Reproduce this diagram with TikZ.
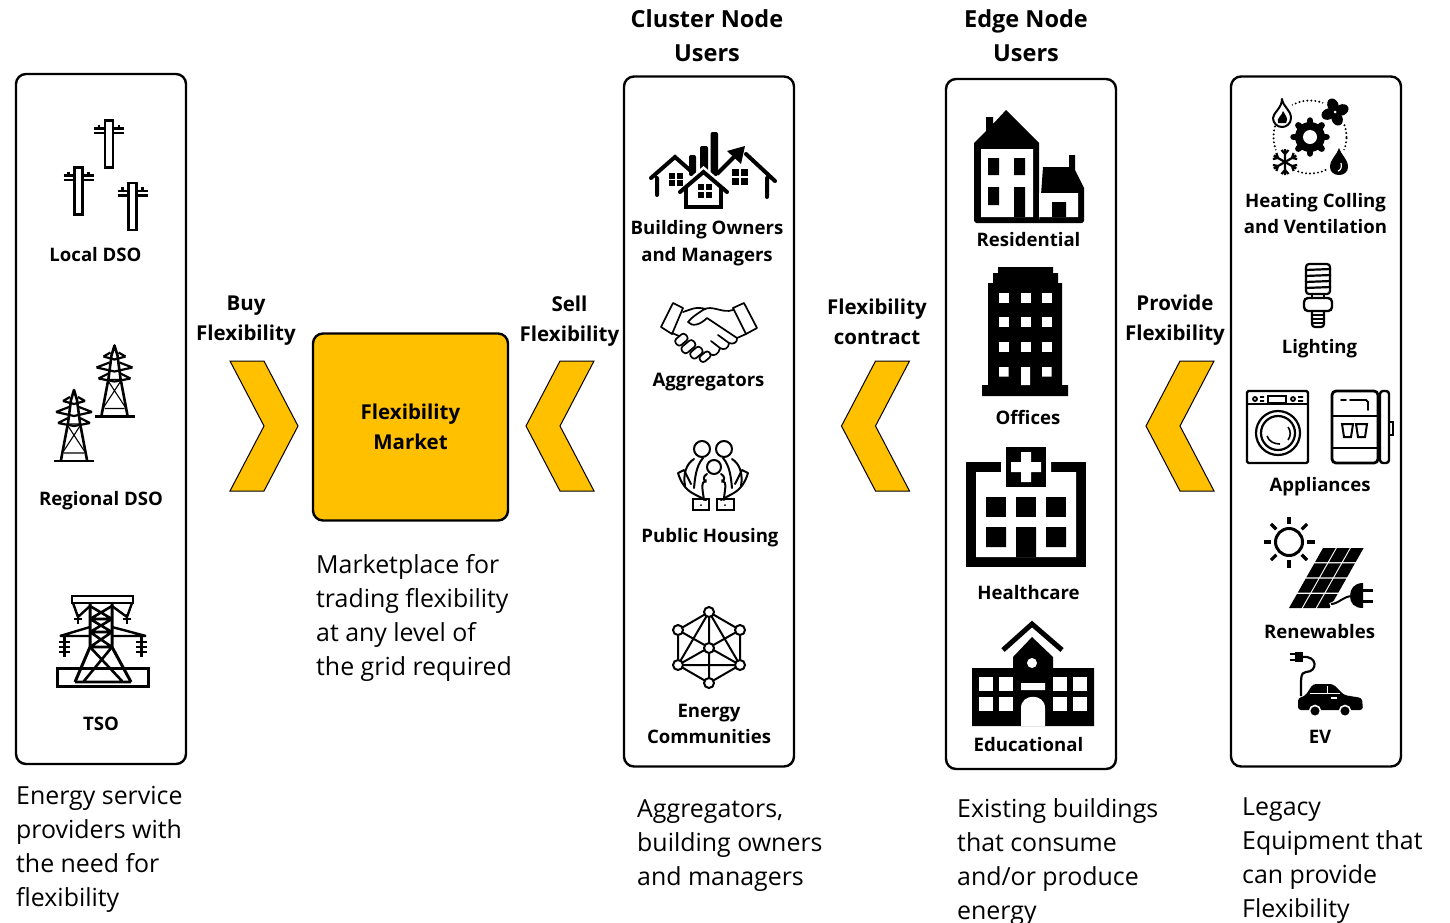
\documentclass[tikz,border=0pt]{standalone}
\usepackage{fontspec}
\setmainfont{Open Sans}
\usetikzlibrary{positioning}
\definecolor{marketgold}{HTML}{FFC000}
\tikzset{
    panel/.style={draw,line width=2.4pt,rounded corners=10pt,minimum width=170pt,minimum height=690pt,inner sep=0pt},
    lbl/.style={align=center,inner sep=0pt,font=\bfseries\fontsize{18.6}{26.5}\selectfont},
    head/.style={align=center,inner sep=0pt,font=\bfseries\fontsize{23.5}{34}\selectfont},
    side/.style={align=center,inner sep=0pt,font=\bfseries\fontsize{20.5}{30}\selectfont},
    note/.style={align=left,anchor=west,inner sep=0pt,font=\fontsize{24.9}{34}\selectfont},
    thin line/.style={line width=1.7pt,line cap=round,line join=round},
    chevron/.pic={\draw[fill=marketgold,line width=1pt,line join=miter] (-34,-65) -- (0,-65) -- (34,0) -- (0,65) -- (-34,65) -- (0,0) -- cycle;},
    pole/.pic={
        \draw[line width=2.5pt] (-4,0) rectangle (4,47);
        \draw[line width=2.2pt] (-15,8) -- (-4,8) (4,8) -- (15,8) (-15,12.5) -- (-4,12.5) (4,12.5) -- (15,12.5) (-10,4) -- (-10,8) (10,4) -- (10,8);
    },
    pylon/.pic={
        \draw[line width=2.6pt,line join=round] (-13,70) -- (-6,33) -- (-3,10) -- (0,0) -- (3,10) -- (6,33) -- (13,70);
        \draw[line width=2.6pt] (-20,71) -- (20,71);
        \draw[line width=1.1pt] (-6,36) -- (11,62) (6,36) -- (-11,62) (-10,63) -- (10,63) (-7,34) -- (7,34);
        \draw[line width=2.2pt,line join=round] (-11,11) -- (-4,7) (11,11) -- (4,7) (-11,11) -- (0,14) -- (11,11) (-18,22) -- (-5,17) (18,22) -- (5,17) (-18,22) -- (0,26) -- (18,22) (-16,33) -- (-6,28) (16,33) -- (6,28) (-16,33) -- (0,36) -- (16,33);
    }
}
\begin{document}
\begin{tikzpicture}[x=1pt,y=-1pt]
    \useasboundingbox (0,0) rectangle (1450,922);

    \node[panel] (dso) at (101,419) {};
    \node[panel] (cluster) at (709,421.5) {};
    \node[panel] (edge) at (1031,424) {};
    \node[panel] (legacy) at (1316,421.5) {};
    \node[draw,line width=2.4pt,rounded corners=10pt,fill=marketgold,minimum width=195pt,minimum height=187pt,align=center,font=\bfseries\fontsize{20.5}{30}\selectfont] (market) at (410.5,427) {Flexibility\\Market};

    \pic (buy) at (264,426) {chevron};
    \pic[xscale=-1] (sell) at (560,426) {chevron};
    \pic[xscale=-1] (contract) at (875.5,426) {chevron};
    \pic[xscale=-1] (provide) at (1180,426) {chevron};

    \node[head] (clusterhead) at (707,36) {Cluster Node\\Users};
    \node[head] (edgehead) at (1026,36) {Edge Node\\Users};
    \node[side] (buylbl) at (246,321) {Buy\\Flexibility};
    \node[side] (selllbl) at (569.5,321) {Sell\\Flexibility};
    \node[side] (contractlbl) at (877,321.5) {Flexibility\\contract};
    \node[side] (providelbl) at (1175,320) {Provide\\Flexibility};

    \node[lbl] (localdso) at (95.5,254.5) {Local DSO};
    \node[lbl] (regional) at (101,501) {Regional DSO};
    \node[lbl] (tso) at (101,724) {TSO};
    \node[lbl] (owners) at (707,243) {Building Owners\\and Managers};
    \node[lbl] (aggregators) at (708.5,382) {Aggregators};
    \node[lbl] (housing) at (710,537.5) {Public Housing};
    \node[lbl] (communities) at (709,724) {Energy\\Communities};
    \node[lbl] (residential) at (1028.5,239.5) {Residential};
    \node[lbl] (offices) at (1028,417) {Offices};
    \node[lbl] (healthcare) at (1028.5,592.5) {Healthcare};
    \node[lbl] (educational) at (1028.5,744.5) {Educational};
    \node[lbl] (hvac) at (1315.5,213.5) {Heating Colling\\and Ventilation};
    \node[lbl] (lighting) at (1319.5,349) {Lighting};
    \node[lbl] (appliances) at (1320,486.5) {Appliances};
    \node[lbl] (renewables) at (1319.5,631.5) {Renewables};
    \node[lbl] (ev) at (1320,736.5) {EV};

    \node[note] (marketnote) at (316,618) {Marketplace for\\trading flexibility\\at any level of\\the grid required};
    \node[note] (dsonote) at (16,849.5) {Energy service\\providers with\\the need for\\flexibility};
    \node[note] (clusternote) at (637,845.5) {Aggregators,\\building owners\\and managers};
    \node[note] (edgenote) at (957,862) {Existing buildings\\that consume\\and/or produce\\energy};
    \node[note] (legacynote) at (1242,860.5) {Legacy\\Equipment that\\can provide\\Flexibility};

    \pic at (109,120.5) {pole};
    \pic at (78.5,167.5) {pole};
    \pic at (132.5,183) {pole};
    \pic at (114.5,345.5) {pylon};
    \pic at (74,390) {pylon};

    \draw[line width=2pt] (72,596) rectangle (133,603);
    \draw[line width=3pt] (57,668) rectangle (148,686);
    \draw[line width=3pt,line join=round] (75,682) -- (90,647) -- (90,604) (131,682) -- (112,647) -- (112,604);
    \draw[line width=2.6pt,line join=bevel] (90,606) -- (112,619) -- (90,632) -- (112,647) (112,606) -- (90,619) -- (112,632) -- (90,647) (90,619) -- (112,619) (90,632) -- (112,632) (90,647) -- (112,647) (90,647) -- (122,681) (112,647) -- (84,681) (75,682) -- (131,682);
    \draw[line width=2.4pt,line join=bevel] (73,603) -- (78,617) -- (90,606) (132,603) -- (127,617) -- (112,606) (90,627) -- (60,636) -- (90,636) (112,627) -- (146,636) -- (112,636);
    \draw[line width=2.4pt] (74,619) -- (82,619) (78,614) -- (78,624) (123,619) -- (131,619) (127,614) -- (127,624);
    \foreach \ypos in {642,647,652} {
        \draw[line width=2.3pt] (59,\ypos) -- (70,\ypos) (136,\ypos) -- (147,\ypos);
    }
    \draw[line width=2.6pt] (64.5,636) -- (64.5,657) (141.5,636) -- (141.5,657);

    \fill[rounded corners=2pt] (689,155) rectangle (696,176) (700,146) rectangle (708,176) (710.5,132) rectangle (718,176);
    \draw[line width=4pt,line cap=round] (651,178) -- (675,157) -- (692,172) (657,178) -- (657,195);
    \draw[line width=4pt,line cap=round] (746,154) -- (775,181) (767,178) -- (767,197);
    \fill[white] (703.5,166) -- (730,189) -- (721,208) -- (686,208) -- (677,189) -- cycle;
    \draw[line width=4pt] (686,187) -- (686,207) -- (721,207) -- (721,187);
    \draw[line width=4pt,line cap=round] (680,192) -- (703.5,172) -- (727,192);
    \draw[line width=4pt] (717,174) -- (738,153);
    \fill (745,146) -- (727,151) -- (741,164) -- cycle;
    \foreach \winx/\winy in {669/173,677/173,669/180,677/180,698/184,706/184,698/192,706/192} {
        \fill (\winx,\winy) rectangle +(6,6);
    }
    \foreach \winx/\winy in {732/169,741/169,732/178,741/178} {
        \fill (\winx,\winy) rectangle +(7,7);
    }

    \draw[thin line,fill=white] (673,303) -- (683,308) -- (672,334) -- (661,327) -- cycle;
    \draw[thin line,fill=white] (744,303) -- (733,308) -- (746,334) -- (757,328) -- cycle;
    \draw[thin line] (683,312) .. controls (690,310) and (695,306) .. (706,309) (733,310) .. controls (722,314) and (712,304) .. (703,310) .. controls (697,314) and (692,317) .. (688,322) .. controls (692,327) and (700,325) .. (707,318) -- (737,338);
    \draw[thin line] (672,333) -- (679,336) (746,334) -- (737,338) .. controls (738,342) and (733,345) .. (729,343) .. controls (729,348) and (724,351) .. (720,348) .. controls (719,354) and (714,357) .. (710,354) (720,348) -- (711,341) (729,343) -- (718,335);
    \draw[thin line,rounded corners=3pt,rotate around={40:(681,340)}] (675,336) rectangle (688,344);
    \draw[thin line,rounded corners=3pt,rotate around={40:(688,347)}] (681,343) rectangle (696,351);
    \draw[thin line,rounded corners=3pt,rotate around={40:(696,353)}] (690,349) rectangle (703,357);
    \draw[thin line,rounded corners=3pt,rotate around={40:(704,357)}] (699,354) rectangle (711,361);

    \draw[line width=2pt] (702,449) circle (8pt) (724,449) circle (8pt);
    \draw[line width=2pt,line cap=round] (694,459) .. controls (686,464) and (683,474) .. (685,486) (732,459) .. controls (740,464) and (743,474) .. (741,486) (703,458) .. controls (696,466) and (695,478) .. (694,488) (723,458) .. controls (730,466) and (731,478) .. (732,488);
    \draw[line width=2pt,line cap=round] (706,480) .. controls (700,482) and (703,492) .. (704,500) (722,480) .. controls (728,482) and (724,492) .. (724,500);
    \draw[line width=2pt,fill=white] (714,467) circle (7pt);
    \draw[line width=2pt,line cap=round] (707,474) .. controls (703,476) and (703,480) .. (706,482) (721,474) .. controls (725,476) and (725,480) .. (722,482);
    \draw[line width=2pt,line cap=round,line join=round] (678,473) .. controls (681,483) and (686,490) .. (694,494) -- (706,500) (748,473) .. controls (745,483) and (740,490) .. (732,494) -- (721,500) (678,473) -- (684,470) -- (691,484) (748,473) -- (742,470) -- (735,484);
    \draw[line width=2pt] (693,499) rectangle (709,510) (717,499) rectangle (734,510);
    \fill (701,505) circle (1pt) (725,505) circle (1pt);

    \coordinate (nettop) at (709,612);
    \coordinate (netul) at (678,630);
    \coordinate (netur) at (740,630);
    \coordinate (netmid) at (709,648);
    \coordinate (netll) at (678,665);
    \coordinate (netlr) at (740,665);
    \coordinate (netbot) at (709,683);
    \draw[line width=2pt] (nettop) -- (netul) -- (netll) -- (netbot) -- (netlr) -- (netur) -- cycle (nettop) -- (netbot) (netul) -- (netlr) (netur) -- (netll) (netll) -- (netlr) (nettop) -- (netll) (nettop) -- (netlr);
    \foreach \netpt in {nettop,netul,netur,netmid,netll,netlr,netbot} {
        \draw[line width=2pt,fill=white] (\netpt) circle (5pt);
    }

    \fill (1006,110) -- (1039,143) -- (1039,223) -- (976,223) -- (974,221) -- (974,143) -- (986,131) -- (986,117) -- (993,117) -- (993,124) -- cycle;
    \fill (1043,167) -- (1069,167) -- (1069,155) -- (1075,155) -- (1075,170) -- (1084,188) -- (1084,221) -- (1082,223) -- (1039,223) -- cycle;
    \fill[white] (981,149) rectangle (1033,217) (1039,193) rectangle (1078,217);
    \fill (988,158) rectangle (999,175) (1014,158) rectangle (1025,175) (988,187) rectangle (999,205) (1014,187) rectangle (1025,217) (1052,202) rectangle (1066,217);

    \fill (998,267) rectangle (1053,273) (993,273) rectangle (1058,283) (988,283) rectangle (1062,385) (982,385) rectangle (1068,396);
    \foreach \winx in {999,1021,1042} {
        \foreach \winy in {293,317,342} {
            \fill[white] (\winx,\winy) rectangle +(9.5,9.5);
        }
    }
    \fill[white] (999,367) rectangle +(9.5,9.5) (1042,367) rectangle +(9.5,9.5) (1021,367) rectangle (1030,385);

    \fill (966,462) rectangle (1086,567);
    \fill[white] (976,472) rectangle (1076,557) (1001,462) rectangle (1051,472);
    \fill (1006,447) rectangle (1046,487);
    \fill[white] (1021,452) rectangle (1031,482) (1011,462) rectangle (1041,472);
    \foreach \winx in {986,1016,1046} {
        \fill (\winx,497) rectangle +(20,20);
    }
    \fill (986,527) rectangle +(20,20) (1046,527) rectangle +(20,20) (1016,527) rectangle (1036,557);

    \draw[line width=5pt] (1003,650) -- (1032,624) -- (1062,650);
    \fill (1032,637) -- (1053,657) -- (1053,668) -- (1094,668) -- (1094,726) -- (972,726) -- (972,668) -- (1013,668) -- (1013,657) -- cycle;
    \fill[white] (1032,663) circle (5pt) (1021,683) rectangle (1045,690);
    \foreach \winx in {979,999,1053,1073} {
        \foreach \winy in {677,697} {
            \fill[white] (\winx,\winy) rectangle +(13.5,14);
        }
    }
    \fill[white] (1021,726) -- (1021,708) .. controls (1021,693) and (1045,693) .. (1045,708) -- (1045,726) -- cycle;

    \draw[line width=2.2pt,line cap=round,dash pattern=on 0pt off 4pt] (1310,137) circle (36.5pt);
    \fill[white] (1282,113) circle (13pt) (1335,112) circle (15pt) (1285,162) circle (15pt) (1339,162) circle (13pt);
    \fill (1310,137) circle (15pt);
    \foreach \ang in {0,45,...,315} {
        \draw[line width=6.5pt,line cap=round] (1310,137) -- ++(\ang:16.5pt);
    }
    \fill[white] (1310,137) circle (7pt);
    \draw[line width=2pt,line join=round] (1282,99) .. controls (1283,107) and (1291,110) .. (1291,118) .. controls (1291,124) and (1286,127) .. (1282,127) .. controls (1277,127) and (1273,123) .. (1273,118) .. controls (1273,113) and (1282,108) .. (1282,99) -- cycle;
    \fill (1283,111) .. controls (1285,115) and (1289,118) .. (1286,123) -- (1278,123) .. controls (1276,118) and (1282,116) .. (1283,111) -- cycle;
    \foreach \ang in {0,90,180,270} {
        \fill[rotate around={\ang+25:(1335,112)}] (1336,105) ellipse (5.5pt and 7pt);
    }
    \fill[white] (1335,112) circle (1.5pt);
    \foreach \ang in {0,60,...,300} {
        \draw[line width=2.2pt,shift={(1285,162)},rotate=\ang+30] (0pt,0pt) -- (13pt,0pt) (8pt,0pt) -- (12pt,3.5pt) (8pt,0pt) -- (12pt,-3.5pt);
    }
    \fill (1339,148) .. controls (1341,155) and (1348,159) .. (1348,167) .. controls (1348,172) and (1344,175) .. (1339,175) .. controls (1334,175) and (1330,172) .. (1330,167) .. controls (1330,159) and (1337,155) .. (1339,148) -- cycle;
    \draw[white,line width=1.2pt] (1341,163) .. controls (1342,167) and (1341,170) .. (1338,171);

    \draw[line width=2.2pt,rounded corners=3pt] (1306,264) rectangle (1330,294);
    \foreach \ypos in {270,276,282,288} {
        \draw[line width=2.2pt] (1305,\ypos) -- (1331,\ypos-1);
    }
    \draw[line width=2.4pt,rounded corners=4pt] (1304,298) rectangle (1332,311);
    \draw[line width=2pt] (1312,294) -- (1312,298) (1324,294) -- (1324,298);
    \draw[line width=2.2pt,rounded corners=3pt] (1312,311) -- (1312,327) -- (1324,327) -- (1324,311);
    \foreach \ypos in {315,319,323} {
        \draw[line width=1.5pt] (1312,\ypos) -- (1324,\ypos);
    }

    \draw[line width=2.2pt,rounded corners=1.5pt] (1247,391) rectangle (1308,463);
    \draw[line width=2pt] (1247,404) -- (1308,404);
    \draw[line width=1.8pt] (1268,396) rectangle (1286,403);
    \draw[line width=1.8pt] (1255,399) circle (2pt) (1293,399) circle (2pt) (1260,397) -- (1264,397) (1260,401) -- (1264,401) (1298,397) -- (1303,397) (1298,401) -- (1303,401);
    \draw[line width=2.2pt] (1278,433) circle (22pt) (1278,433) circle (17pt);
    \draw[line width=1.6pt] (1267,436) .. controls (1269,442) and (1275,444) .. (1280,444) (1288,427) .. controls (1291,431) and (1291,436) .. (1288,440);

    \draw[line width=2.8pt,rounded corners=4pt] (1332,391) rectangle (1378,463);
    \draw[line width=2.2pt] (1332,416) -- (1378,416) (1332,448) -- (1378,448);
    \draw[line width=1.8pt,line cap=round] (1341,400) -- (1346,400) (1350,400) -- (1366,400) -- (1368,402) -- (1368,410);
    \draw[line width=2pt] (1342,424) -- (1353,424) -- (1351,437) -- (1344,437) -- cycle (1356,424) -- (1367,424) -- (1365,437) -- (1358,437) -- cycle;
    \draw[line width=2.4pt,rounded corners=3pt] (1380,391) rectangle (1389,463);
    \draw[line width=2pt] (1389,422) -- (1393,422) -- (1393,435) -- (1389,435);

    \draw[line width=3pt] (1289,542) circle (13.5pt);
    \foreach \ang in {0,45,...,315} {
        \draw[line width=3.2pt] (1289,542) ++(\ang:18pt) -- ++(\ang:7.5pt);
    }
    \begin{scope}[shift={(1289,608)},xslant=0.567]
        \foreach \colx in {0,14,28} {
            \foreach \rowy in {0,15.3,30.6,45.9} {
                \fill (\colx,-\rowy) rectangle +(12.6,-14);
            }
        }
    \end{scope}
    \draw[white,line width=4pt] (1330,605) -- (1352,596);
    \draw[line width=2pt] (1331,604) .. controls (1338,604) and (1344,596) .. (1352,596);
    \fill (1363,583) -- (1363,608) .. controls (1354,608) and (1350,603) .. (1350,596) .. controls (1350,589) and (1354,583) .. (1363,583) -- cycle;
    \draw[line width=3pt] (1362,590) -- (1373,590) (1362,601) -- (1373,601);

    \fill (1295,652) rectangle (1303,662);
    \draw[line width=2pt] (1290,654) -- (1295,654) (1290,660) -- (1295,660);
    \draw[line width=2.2pt] (1302,657) .. controls (1318,655) and (1318,672) .. (1306,672) .. controls (1300,672) and (1301,680) .. (1301,696);
    \fill[rounded corners=3pt] (1298,710) -- (1298,698) -- (1305,696) -- (1313,684) -- (1333,684) -- (1344,695) -- (1362,698) -- (1363,710) -- cycle;
    \draw[white,line width=1pt] (1310,693) -- (1340,693) (1327,686) -- (1327,693);
    \fill[white] (1331,697) rectangle (1337,699);
    \draw[white,fill=black,line width=1.6pt] (1315,711) circle (5.5pt) (1345,711) circle (5.5pt);
\end{tikzpicture}
\end{document}
